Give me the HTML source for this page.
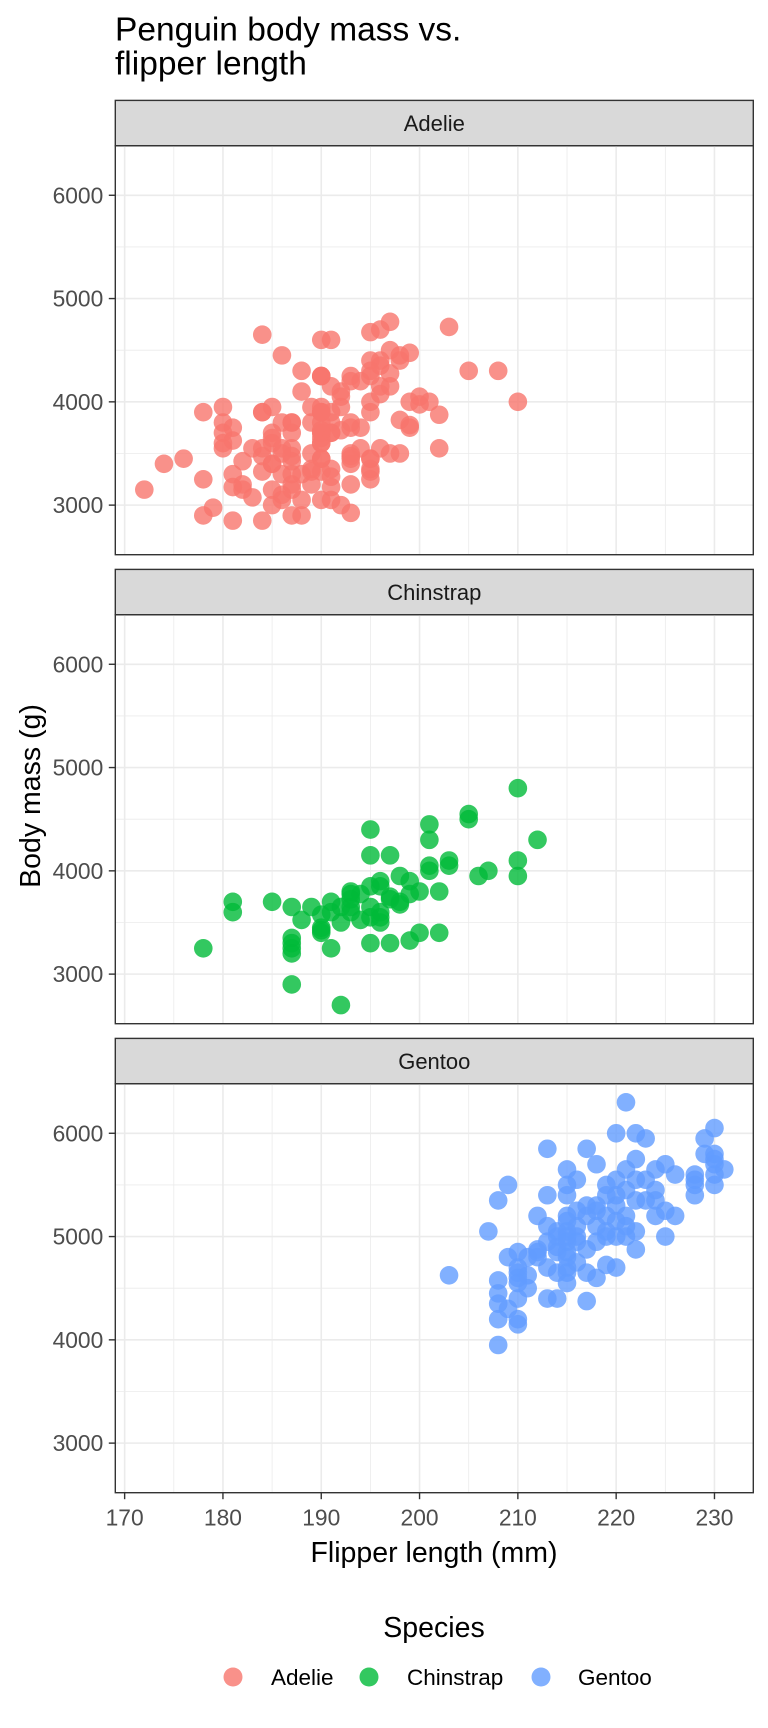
<!DOCTYPE html>
<html><head><meta charset="utf-8"><style>
html,body{margin:0;padding:0;background:#fff;}
svg{display:block;font-family:"Liberation Sans",Arial,sans-serif;}
</style></head><body>
<svg id="s" width="768" height="1728" viewBox="0 0 768 1728" xmlns="http://www.w3.org/2000/svg">
<rect width="768" height="1728" fill="#fff"/>
<text x="115" y="40.5" font-size="33.5" fill="#000">Penguin body mass vs.</text>
<text x="115" y="74.5" font-size="33.5" fill="#000">flipper length</text>
<g id="panels"></g>
<text transform="translate(40,796) rotate(-90)" text-anchor="middle" font-size="28.5" fill="#000">Body mass (g)</text>
<text x="434" y="1562" text-anchor="middle" font-size="28.5" fill="#000">Flipper length (mm)</text>
<text x="434" y="1637" text-anchor="middle" font-size="28.5" fill="#000">Species</text>
<circle cx="233" cy="1677" r="9.5" fill="#F8766D" fill-opacity="0.8"/>
<text x="271" y="1685" font-size="22.5" fill="#000">Adelie</text>
<circle cx="369" cy="1677" r="9.5" fill="#00BA38" fill-opacity="0.8"/>
<text x="407" y="1685" font-size="22.5" fill="#000">Chinstrap</text>
<circle cx="541" cy="1677" r="9.5" fill="#619CFF" fill-opacity="0.8"/>
<text x="578" y="1685" font-size="22.5" fill="#000">Gentoo</text>
</svg>
<script>
var A=[[181,3750],[186,3800],[195,3250],[193,3450],[190,3650],[181,3625],[195,4675],[193,3475],[190,4250],[186,3300],[180,3700],[182,3200],[191,3800],[198,4400],[185,3700],[195,3450],[197,4500],[184,3325],[194,4200],[174,3400],[180,3600],[189,3800],[185,3950],[180,3800],[187,3800],[183,3550],[187,3200],[172,3150],[180,3950],[178,3250],[178,3900],[188,3300],[184,3900],[195,3325],[196,4150],[190,3950],[180,3550],[181,3300],[184,4650],[182,3150],[195,3900],[186,3100],[196,4400],[185,3000],[190,4600],[182,3425],[179,2975],[190,3450],[191,4150],[186,3500],[188,4300],[190,3450],[200,4050],[187,2900],[191,3700],[186,3550],[193,3800],[181,2850],[194,3750],[185,3150],[195,4400],[185,3600],[192,4050],[184,2850],[192,3950],[195,3350],[188,4100],[190,3050],[198,4450],[190,3600],[190,3900],[196,3550],[197,4150],[190,3700],[195,4250],[191,3700],[184,3900],[187,3550],[195,4000],[189,3200],[196,4700],[187,3800],[193,4200],[191,3350],[194,3550],[190,3800],[189,3500],[189,3950],[190,3600],[202,3550],[205,4300],[185,3400],[186,4450],[187,3300],[208,4300],[190,3700],[196,4350],[178,2900],[192,4100],[192,3725],[203,4725],[183,3075],[190,4250],[193,2925],[184,3550],[199,3750],[190,3900],[181,3175],[197,4775],[198,3825],[191,4600],[193,3200],[197,4275],[191,3900],[196,4075],[188,2900],[199,3775],[189,3350],[189,3325],[187,3150],[198,3500],[176,3450],[202,3875],[186,3050],[199,4000],[191,3275],[195,4300],[191,3050],[210,4000],[190,3325],[197,3500],[193,3500],[199,4475],[187,3425],[190,3900],[191,3175],[200,3975],[185,3400],[193,4250],[193,3400],[187,3475],[188,3050],[190,3725],[192,3000],[185,3650],[190,4250],[184,3475],[195,3450],[193,3750],[187,3700],[201,4000]];
var C=[[192,2700],[187,2900],[210,4800],[212,4300],[210,4100],[210,3950],[207,4000],[206,3950],[205,4500],[205,4550],[203,4100],[203,4050],[202,3400],[202,3800],[201,4450],[201,4300],[201,4050],[201,4000],[200,3800],[200,3400],[199,3325],[199,3900],[198,3950],[198,3700],[198,3675],[197,4150],[197,3300],[197,3725],[197,3750],[196,3900],[196,3850],[196,3500],[196,3600],[195,4400],[195,4150],[195,3850],[195,3650],[195,3300],[195,3550],[194,3775],[194,3525],[193,3800],[193,3775],[193,3650],[193,3600],[192,3650],[192,3500],[191,3700],[191,3250],[191,3600],[190,3450],[190,3575],[190,3400],[190,3425],[189,3650],[188,3525],[187,3650],[187,3350],[187,3300],[187,3250],[187,3200],[185,3700],[181,3700],[181,3600],[178,3250],[196,3550],[199,3775],[193,3725]];
var G=[[203,4625],[207,5050],[208,5350],[209,5500],[208,4575],[208,4350],[208,4200],[208,3950],[209,4800],[210,4850],[210,4700],[210,4550],[210,4400],[210,4200],[210,4150],[211,4800],[211,4500],[212,4850],[212,5200],[213,5850],[213,5400],[213,5100],[213,4400],[213,4700],[214,5000],[214,4650],[214,4400],[214,4900],[215,5650],[215,5500],[215,5400],[215,5150],[215,5050],[215,5000],[215,4950],[215,4800],[215,4700],[215,4550],[215,4650],[216,5550],[216,5000],[216,4950],[216,4750],[217,5850],[217,5200],[217,4875],[217,4375],[217,4650],[218,5700],[218,5300],[218,4950],[218,4600],[218,5100],[219,5500],[219,5200],[219,4725],[219,5050],[220,6000],[220,5550],[220,5400],[220,5300],[220,5150],[220,4700],[221,6300],[221,5450],[221,5200],[221,5000],[221,5100],[222,6000],[222,5750],[222,5350],[222,5050],[222,4875],[223,5950],[223,5550],[223,5350],[224,5650],[224,5450],[224,5200],[225,5700],[225,5250],[225,5000],[226,5200],[228,5600],[228,5400],[228,5550],[229,5950],[229,5800],[230,6050],[230,5800],[230,5700],[230,5600],[230,5500],[231,5650],[210,4600],[212,4800],[214,5050],[216,5100],[219,5400],[221,5650],[222,5550],[224,5350],[209,4300],[208,4450],[210,4650],[211,4625],[213,4950],[215,4850],[216,5250],[217,5300],[218,5250],[220,5000],[212,4875],[219,5000],[228,5500],[230,5750],[215,5200],[214,4850],[226,5600]];
var NS="http://www.w3.org/2000/svg",g=document.getElementById("panels");
var L=115.3,R=753.3,X0=169.05,X1=233.95,Y0=2520,Y1=6480,PH=409;
function el(n,a,t){var e=document.createElementNS(NS,n);for(var k in a)e.setAttribute(k,a[k]);if(t)e.textContent=t;g.appendChild(e);return e;}
function sx(v){return L+(v-X0)/(X1-X0)*(R-L);}
var panels=[["Adelie",A,"#F8766D",100.4],["Chinstrap",C,"#00BA38",569.4],["Gentoo",G,"#619CFF",1038.4]];
panels.forEach(function(p,i){
 var st=p[3],top=st+45.3,bot=top+PH;
 function sy(v){return bot-(v-Y0)/(Y1-Y0)*PH;}
 el("rect",{x:L,y:st,width:R-L,height:45.3,fill:"#D9D9D9",stroke:"#333",'stroke-width':1.4});
 el("text",{x:(L+R)/2,y:st+30.5,'text-anchor':"middle",'font-size':22,fill:"#1A1A1A"},p[0]);
 [175,185,195,205,215,225].forEach(function(v){el("line",{x1:sx(v),x2:sx(v),y1:top,y2:bot,stroke:"#EBEBEB",'stroke-width':0.8});});
 [3500,4500,5500].forEach(function(v){el("line",{x1:L,x2:R,y1:sy(v),y2:sy(v),stroke:"#EBEBEB",'stroke-width':0.8});});
 [170,180,190,200,210,220,230].forEach(function(v){el("line",{x1:sx(v),x2:sx(v),y1:top,y2:bot,stroke:"#EBEBEB",'stroke-width':1.6});});
 [3000,4000,5000,6000].forEach(function(v){el("line",{x1:L,x2:R,y1:sy(v),y2:sy(v),stroke:"#EBEBEB",'stroke-width':1.6});
   el("line",{x1:L-6.5,x2:L,y1:sy(v),y2:sy(v),stroke:"#333",'stroke-width':1.4});
   el("text",{x:L-12,y:sy(v)+8,'text-anchor':"end",'font-size':22.8,fill:"#4D4D4D"},String(v));});
 p[1].forEach(function(d){el("circle",{cx:sx(d[0]),cy:sy(d[1]),r:9.3,fill:p[2],'fill-opacity':0.8});});
 el("rect",{x:L,y:top,width:R-L,height:PH,fill:"none",stroke:"#333",'stroke-width':1.4});
 if(i==2){[170,180,190,200,210,220,230].forEach(function(v){
   el("line",{x1:sx(v),x2:sx(v),y1:bot,y2:bot+6.5,stroke:"#333",'stroke-width':1.4});
   el("text",{x:sx(v),y:bot+33,'text-anchor':"middle",'font-size':22.8,fill:"#4D4D4D"},String(v));});}
});
</script>
</body></html>
